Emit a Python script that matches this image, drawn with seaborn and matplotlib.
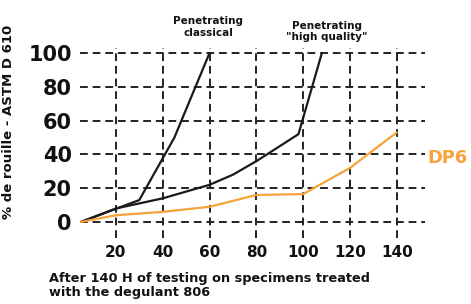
import numpy as np
import pandas as pd
import matplotlib
matplotlib.use("Agg")
import matplotlib.pyplot as plt
import seaborn as sns

# values
classical_x = [5, 30, 45, 60]
classical_y = [0, 13, 50, 100]
hq_x = [5, 20, 40, 60, 70, 80, 98, 108]
hq_y = [0, 8, 14, 22, 28, 36, 52, 100]
dp6_x = [5, 20, 40, 60, 80, 100, 120, 140]
dp6_y = [0, 4, 6, 9, 16, 16.5, 32, 53]
x_ticks = [20, 40, 60, 80, 100, 120, 140]
y_ticks = [0, 20, 40, 60, 80, 100]

ORANGE = "#F5A33B"
INK = "#111111"

sns.set_style("white")
plt.rcParams["font.family"] = ["DejaVu Sans"]
plt.rcParams["text.color"] = INK
plt.rcParams["xtick.color"] = INK
plt.rcParams["ytick.color"] = INK
plt.rcParams["axes.labelcolor"] = INK

fig = plt.figure(figsize=(4.71, 3.04), dpi=100)
ax = fig.add_axes([0.170, 0.217, 0.732, 0.625])

sns.lineplot(x=classical_x, y=classical_y, ax=ax, color="#1a1a1a", lw=1.6)
sns.lineplot(x=hq_x, y=hq_y, ax=ax, color="#1a1a1a", lw=1.6)
sns.lineplot(x=dp6_x, y=dp6_y, ax=ax, color=ORANGE, lw=1.6)

ax.set_xlim(4.7, 152)
ax.set_ylim(-9.5, 103)
ax.set_xticks(x_ticks)
ax.set_yticks(y_ticks)
for s in ax.spines.values():
    s.set_visible(False)
ax.grid(True, color="#222222", linestyle=(0, (4, 2.5)), linewidth=1.4)
ax.set_axisbelow(True)
ax.tick_params(length=0)
ax.tick_params(axis="y", labelsize=15, pad=6)
ax.tick_params(axis="x", labelsize=11, pad=5)
for lab in ax.get_xticklabels() + ax.get_yticklabels():
    lab.set_fontweight("bold")

ax.set_ylabel("% de rouille - ASTM D 610", fontsize=9.5, fontweight="bold")
ax.yaxis.set_label_coords(-0.188, 0.61)

fig.text(0.105, 0.015, "After 140 H of testing on specimens treated\nwith the degulant 806",
         fontsize=9.3, fontweight="bold", ha="left", va="bottom", linespacing=1.15)

ax.text(59.5, 109, "Penetrating\nclassical", fontsize=7.5, fontweight="bold",
        ha="center", va="bottom", linespacing=1.2)
ax.text(110, 106.5, "Penetrating\n\"high quality\"", fontsize=7.5, fontweight="bold",
        ha="center", va="bottom", linespacing=1.2)
ax.text(153, 38, "DP6", fontsize=12.8, fontweight="bold", color=ORANGE,
        ha="left", va="center", clip_on=False)

fig.savefig("out.png", dpi=100)
